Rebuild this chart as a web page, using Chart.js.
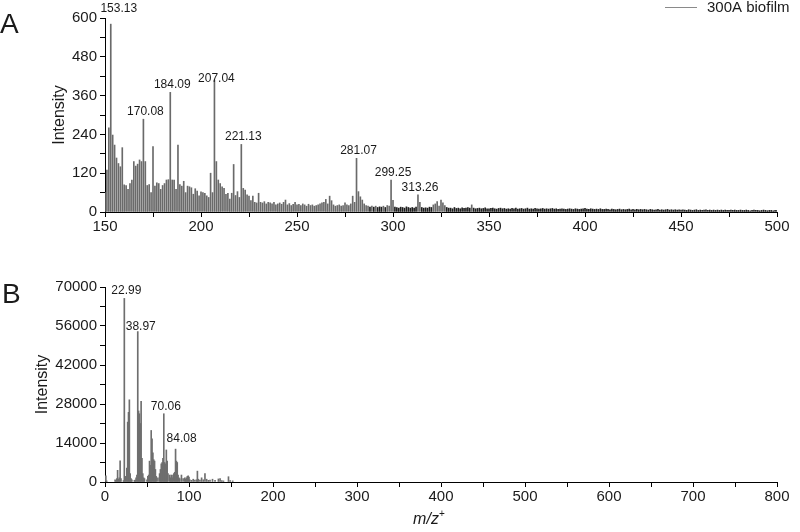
<!DOCTYPE html>
<html>
<head>
<meta charset="utf-8">
<script src="https://cdn.jsdelivr.net/npm/chart.js@4.4.1/dist/chart.umd.min.js"></script>
<style>
	html, body { margin: 0; padding: 0; background: #fff; }
	#wrap { position: relative; width: 800px; height: 532px; overflow: hidden; }
	#wrap canvas { position: absolute; left: 0; }
	#chartA { top: 0; }
	#chartB { top: 262px; }
</style>
</head>
<body>
<div id="wrap">
	<canvas id="chartA" width="800" height="262"></canvas>
	<canvas id="chartB" width="800" height="270"></canvas>
</div>
<script>
/* ==========================================================================
 Data
 ========================================================================== */

const legendLabel = '300A biofilm';

// Panel A: one value per nominal mass, starting at m/z 150
const mzStartA = 150;
const intensityA = [
	60, 130, 260, 581, 238, 207, 167, 150, 140, 199,   // 150
	84, 82, 70, 88, 99, 156, 142, 148, 161, 156,       // 160
	287, 156, 82, 85, 60, 202, 80, 90, 88, 70,         // 170
	82, 88, 99, 100, 370, 99, 99, 70, 207, 85,         // 180
	80, 95, 60, 80, 78, 75, 55, 72, 65, 50,            // 190
	62, 60, 58, 50, 45, 120, 60, 408, 156, 99,         // 200
	88, 78, 73, 55, 58, 40, 58, 147, 51, 63,           // 210
	45, 209, 73, 68, 53, 49, 35, 49, 30, 28,           // 220
	58, 30, 28, 32, 25, 30, 28, 25, 30, 22,            // 230
	25, 28, 24, 30, 37, 22, 26, 20, 24, 30,            // 240
	22, 24, 20, 25, 22, 18, 24, 20, 22, 18,            // 250
	20, 22, 25, 28, 30, 39, 25, 49, 35, 22,            // 260
	18, 20, 22, 18, 20, 28, 22, 20, 25, 49,            // 270
	30, 166, 63, 47, 37, 25, 20, 18, 15, 18,           // 280
	15, 18, 14, 16, 15, 18, 14, 20, 18, 99,            // 290
	36, 15, 14, 12, 15, 14, 12, 16, 14, 12,            // 300
	14, 12, 15, 53, 30, 14, 12, 13, 12, 15,            // 310
	14, 22, 25, 32, 18, 37, 28, 20, 14, 12,            // 320
	12, 10, 14, 11, 12, 10, 13, 11, 12, 14,            // 330
	12, 22, 12, 10, 11, 12, 10, 11, 13, 10,            // 340
	10, 11, 12, 10, 9, 11, 12, 10, 11, 9,              // 350
	10, 9, 11, 10, 12, 9, 10, 11, 9, 10,               // 360
	12, 9, 10, 9, 11, 10, 9, 10, 11, 9,                // 370
	10, 9, 10, 11, 9, 10, 8, 9, 10, 9,                 // 380
	8, 9, 10, 9, 8, 10, 9, 8, 9, 10,                   // 390
	11, 9, 8, 10, 9, 8, 9, 8, 10, 8,                   // 400
	8, 9, 8, 7, 9, 8, 7, 8, 9, 7,                      // 410
	8, 7, 8, 9, 7, 8, 7, 8, 7, 8,                      // 420
	7, 8, 7, 6, 8, 7, 6, 7, 8, 6,                      // 430
	7, 6, 7, 8, 6, 7, 6, 7, 6, 7,                      // 440
	6, 7, 6, 5, 7, 6, 5, 6, 7, 5,                      // 450
	6, 5, 6, 7, 5, 6, 5, 6, 5, 6,                      // 460
	5, 6, 5, 6, 5, 5, 6, 5, 6, 5,                      // 470
	5, 6, 5, 5, 6, 5, 4, 5, 6, 5,                      // 480
	5, 4, 5, 6, 5, 4, 5, 5, 4, 5,                      // 490
	5                                                  // 500
];
const peakLabelsA = ['153.13', '170.08', '184.09', '207.04', '221.13', '281.07', '299.25', '313.26'];
const xTicksA = [150, 200, 250, 300, 350, 400, 450, 500];
const yTicksA = [0, 120, 240, 360, 480, 600];

// Panel B
const mzB = [
	1, 2, 12, 13, 14, 15, 16, 17, 18, 19,
	22, 23, 24, 25, 26, 27, 28, 29, 30, 31,
	32, 35, 36, 37, 38, 39, 40, 41, 42, 43,
	44, 45, 46, 47, 50, 51, 52, 53, 54, 55,
	56, 57, 58, 59, 60, 61, 63, 65, 66, 67,
	68, 69, 70, 71, 72, 73, 74, 75, 77, 78,
	79, 80, 81, 82, 83, 84, 85, 86, 87, 88,
	89, 91, 93, 95, 96, 97, 98, 99, 100, 101,
	103, 105, 107, 109, 110, 111, 113, 115, 117, 119,
	121, 123, 125, 128, 131, 135, 137, 139, 141, 147,
	149, 152
];
const intensityB = [
	2200, 400, 800, 600, 1200, 4200, 1000, 1500, 7600, 1200,
	500, 65900, 2000, 1500, 5000, 21500, 25000, 29500, 3000, 1200,
	800, 600, 700, 1500, 2500, 54000, 25500, 24500, 21000, 29000,
	8500, 3000, 1500, 1200, 800, 2000, 2500, 7500, 6000, 18500,
	15500, 10500, 8000, 7500, 4500, 2000, 1500, 3000, 4500, 6500,
	7000, 8500, 24500, 7000, 6500, 11500, 7500, 3000, 2500, 1500,
	2500, 1500, 2500, 3000, 3500, 11800, 7500, 7000, 2500, 1500,
	1200, 2500, 1200, 1500, 1000, 1500, 2000, 2200, 1800, 800,
	600, 1000, 700, 800, 3900, 1000, 700, 1500, 800, 3000,
	1000, 600, 700, 1000, 600, 1100, 1200, 500, 400, 1900,
	500, 400
];
const peakLabelsB = ['22.99', '38.97', '70.06', '84.08'];
const xTicksB = [0, 100, 200, 300, 400, 500, 600, 700, 800];
const yTicksB = [0, 14000, 28000, 42000, 56000, 70000];

/* ==========================================================================
 Annotations (peak labels, panel letter, legend, x title)
 ========================================================================== */

const FONT = 'Arial, "Liberation Sans", sans-serif';
const TEXT_COLOR = '#1a1a1a';

const annotatePlugin = {
	id: 'annotate',
	afterDatasetsDraw(chart, args, opts) {
		const {ctx, chartArea} = chart;
		const xs = chart.scales.x;
		const ys = chart.scales.y;
		const points = chart.data.datasets[0].data;

		ctx.save();
		ctx.fillStyle = TEXT_COLOR;

		// Peak labels sit just above their peak
		ctx.font = '12px ' + FONT;
		ctx.textAlign = 'center';
		ctx.textBaseline = 'alphabetic';
		opts.peaks.forEach(label => {
			const mz = Math.round(parseFloat(label));
			const point = points.find(p => p.x === mz);
			if (!point) return;
			const nudge = opts.nudge[label] || {dx: 0, dy: 0};
			const px = xs.getPixelForValue(mz) + 2 + nudge.dx;
			const py = ys.getPixelForValue(point.y) - 4 + nudge.dy;
			ctx.fillText(label, px, py);
		});

		// Panel letter
		ctx.font = '28px ' + FONT;
		ctx.textAlign = 'left';
		ctx.fillText(opts.letter, opts.letterX, opts.letterY);

		// Legend
		if (opts.legend) {
			ctx.strokeStyle = '#8a8a8a';
			ctx.lineWidth = 1;
			ctx.beginPath();
			ctx.moveTo(665, 7.5);
			ctx.lineTo(697, 7.5);
			ctx.stroke();
			ctx.font = '15px ' + FONT;
			ctx.textBaseline = 'middle';
			ctx.fillText(opts.legend, 707, 8);
		}

		// x axis title: italic m/z with superscript +
		if (opts.xTitle) {
			const cx = (chartArea.left + chartArea.right) / 2 - 12;
			const cy = chart.height - 12;
			ctx.font = 'italic 16px ' + FONT;
			ctx.textBaseline = 'middle';
			ctx.textAlign = 'left';
			const w = ctx.measureText('m/z').width;
			ctx.fillText('m/z', cx - (w + 6) / 2, cy);
			ctx.font = '10px ' + FONT;
			ctx.fillText('+', cx - (w + 6) / 2 + w, cy - 6);
		}

		ctx.restore();
	}
};

/* ==========================================================================
 Config
 ========================================================================== */

function axisStyle(ticks, step, extra) {
	return Object.assign({
		type: 'linear',
		min: ticks[0],
		max: ticks[ticks.length - 1],
		offset: false,
		border: {display: true, color: '#000', width: 1},
		grid: {
			display: true,
			offset: false,
			drawOnChartArea: false,
			drawTicks: true,
			tickLength: 5,
			tickColor: '#000',
			tickWidth: 1,
		},
		ticks: {
			stepSize: step,
			autoSkip: false,
			maxRotation: 0,
			color: TEXT_COLOR,
			font: {size: 15, family: FONT},
			callback: value => ticks.includes(value) ? String(value) : '',
		},
	}, extra);
}

// dense low-level comb reads as black in the original, tall sticks as grey
function stickColor(tall, floor, cutoff) {
	return ctx => (ctx.raw && ctx.raw.y > cutoff) ? tall : floor;
}

function makeConfig(points, color, xTicks, yTicks, annotate, padTop, padLeft) {
	const xStep = (xTicks[1] - xTicks[0]) / 2;
	const yStep = (yTicks[1] - yTicks[0]) / 2;

	const xAxis = axisStyle(xTicks, xStep, {
		afterFit(scale) { scale.height = 50; },
	});
	xAxis.ticks.padding = 1;

	const yAxis = axisStyle(yTicks, yStep, {
		afterFit(scale) { scale.width = 105 - padLeft; },
		title: {
			display: true,
			text: 'Intensity',
			color: TEXT_COLOR,
			font: {size: 16, family: FONT},
			padding: {top: 0, bottom: 0},
		},
	});

	return {
		type: 'bar',
		data: {
			datasets: [{
				data: points,
				backgroundColor: color,
				borderWidth: 0,
				barThickness: 1,
			}],
		},
		options: {
			responsive: false,
			animation: false,
			devicePixelRatio: 1,
			layout: {padding: {left: padLeft, top: padTop, right: 23, bottom: 0}},
			scales: {x: xAxis, y: yAxis},
			plugins: {
				legend: {display: false},
				tooltip: {enabled: false},
				annotate: annotate,
			},
		},
		plugins: [annotatePlugin],
	};
}

/* ==========================================================================
 Render
 ========================================================================== */

const pointsA = intensityA.map((v, i) => ({x: mzStartA + i, y: v}));
const pointsB = mzB.map((mz, i) => ({x: mz, y: intensityB[i]}));

new Chart(document.getElementById('chartA'), makeConfig(
	pointsA, stickColor('#6a6a6a', '#1e1e1e', 16), xTicksA, yTicksA,
	{
		peaks: peakLabelsA,
		nudge: {'153.13': {dx: 6, dy: -8}, '207.04': {dx: 0, dy: 6}},
		letter: 'A', letterX: 0, letterY: 33,
		legend: legendLabel,
	},
	18, 50
));

new Chart(document.getElementById('chartB'), makeConfig(
	pointsB, '#6e6e6e', xTicksB, yTicksB,
	{
		peaks: peakLabelsB,
		nudge: {'38.97': {dx: 1, dy: 2}, '84.08': {dx: 4, dy: -3}},
		letter: 'B', letterX: 2, letterY: 41,
		xTitle: true,
	},
	25, 33
));
</script>
</body>
</html>
